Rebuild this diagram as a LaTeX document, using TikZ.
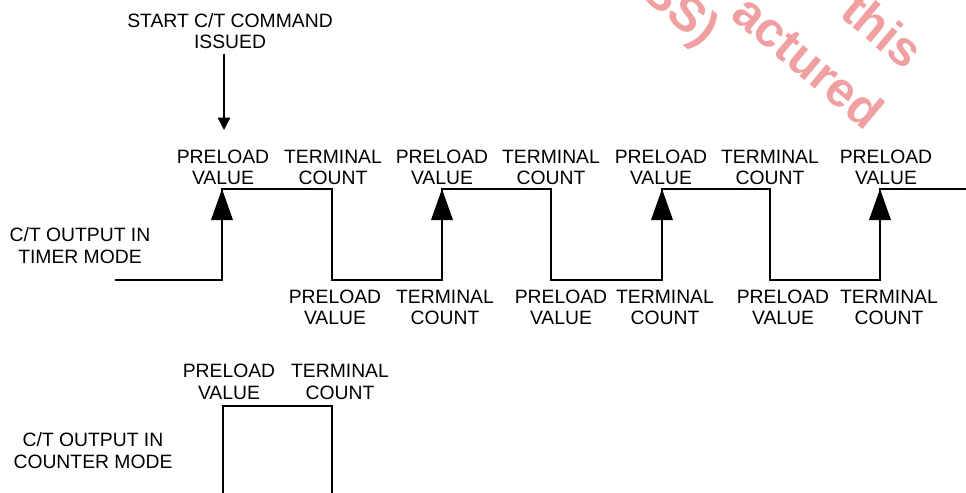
\documentclass[tikz,border=0pt]{standalone}
\usepackage{fontspec}
\setmainfont{Liberation Sans}
\usetikzlibrary{arrows.meta,positioning}
\definecolor{wmred}{RGB}{240,160,160}
\tikzset{
  lbl/.style={align=center, inner sep=0pt, font=\fontsize{11}{12.3}\selectfont},
  wave/.style={line width=0.85pt},
  startarr/.style={line width=0.85pt, -{Triangle[width=7pt,length=7pt]}},
  wmark/.style={text=wmred, rotate=-40, inner sep=0pt, font=\fontsize{28}{28}\selectfont\bfseries}
}
\begin{document}
\begin{tikzpicture}[x=0.02cm, y=-0.02cm]
	\useasboundingbox (0,0) rectangle (966,493);

	% watermark, cut by the page edge
	\begin{scope}
	\clip (0,0) rectangle (966,493);
	\node[wmark] (wa) at (679,12) {SS)};
	\node[wmark] (wb) at (809,61) {actured};
	\node[wmark] (wc) at (883,30) {this};
	\end{scope}

	\node[lbl, outer sep=3pt] (start) at (230,31) {START C/T COMMAND\\ISSUED};
	\coordinate (go) at (224,130);
	\draw[startarr] (start.south -| go) to (go);

	% timer mode
	\node[lbl] (tm) at (80,245.5) {C/T OUTPUT IN\\TIMER MODE};
	\draw[wave] (115,280) -- (222,280) -- (222,189) -- (332,189) -- (332,280)
		-- (442,280) -- (442,189) -- (551,189) -- (551,280) -- (662,280)
		-- (662,189) -- (770,189) -- (770,280) -- (880,280) -- (880,189) -- (970,189);
	\fill (222,189) -- ++(-11,31) -- ++(22,0) -- cycle;
	\fill (442,189) -- ++(-11,31) -- ++(22,0) -- cycle;
	\fill (662,189) -- ++(-11,31) -- ++(22,0) -- cycle;
	\fill (880,189) -- ++(-11,31) -- ++(22,0) -- cycle;

	\node[lbl] (pv1) at (223,167.5) {PRELOAD\\VALUE};
	\node[lbl] (tc1) at (333,167.5) {TERMINAL\\COUNT};
	\node[lbl] (pv2) at (442,167.5) {PRELOAD\\VALUE};
	\node[lbl] (tc2) at (551,167.5) {TERMINAL\\COUNT};
	\node[lbl] (pv3) at (661,167.5) {PRELOAD\\VALUE};
	\node[lbl] (tc3) at (770,167.5) {TERMINAL\\COUNT};
	\node[lbl] (pv4) at (886,167.5) {PRELOAD\\VALUE};

	\node[lbl] (pl1) at (335,307.5) {PRELOAD\\VALUE};
	\node[lbl] (tl1) at (445,307.5) {TERMINAL\\COUNT};
	\node[lbl] (pl2) at (561,307.5) {PRELOAD\\VALUE};
	\node[lbl] (tl2) at (665,307.5) {TERMINAL\\COUNT};
	\node[lbl] (pl3) at (783,307.5) {PRELOAD\\VALUE};
	\node[lbl] (tl3) at (889,307.5) {TERMINAL\\COUNT};

	% counter mode
	\node[lbl] (cm) at (93,450.5) {C/T OUTPUT IN\\COUNTER MODE};
	\draw[wave] (223,500) -- (223,406) -- (332,406) -- (332,500);
	\node[lbl] (pc) at (229,382) {PRELOAD\\VALUE};
	\node[lbl] (tcc) at (340,382) {TERMINAL\\COUNT};

\end{tikzpicture}
\end{document}
